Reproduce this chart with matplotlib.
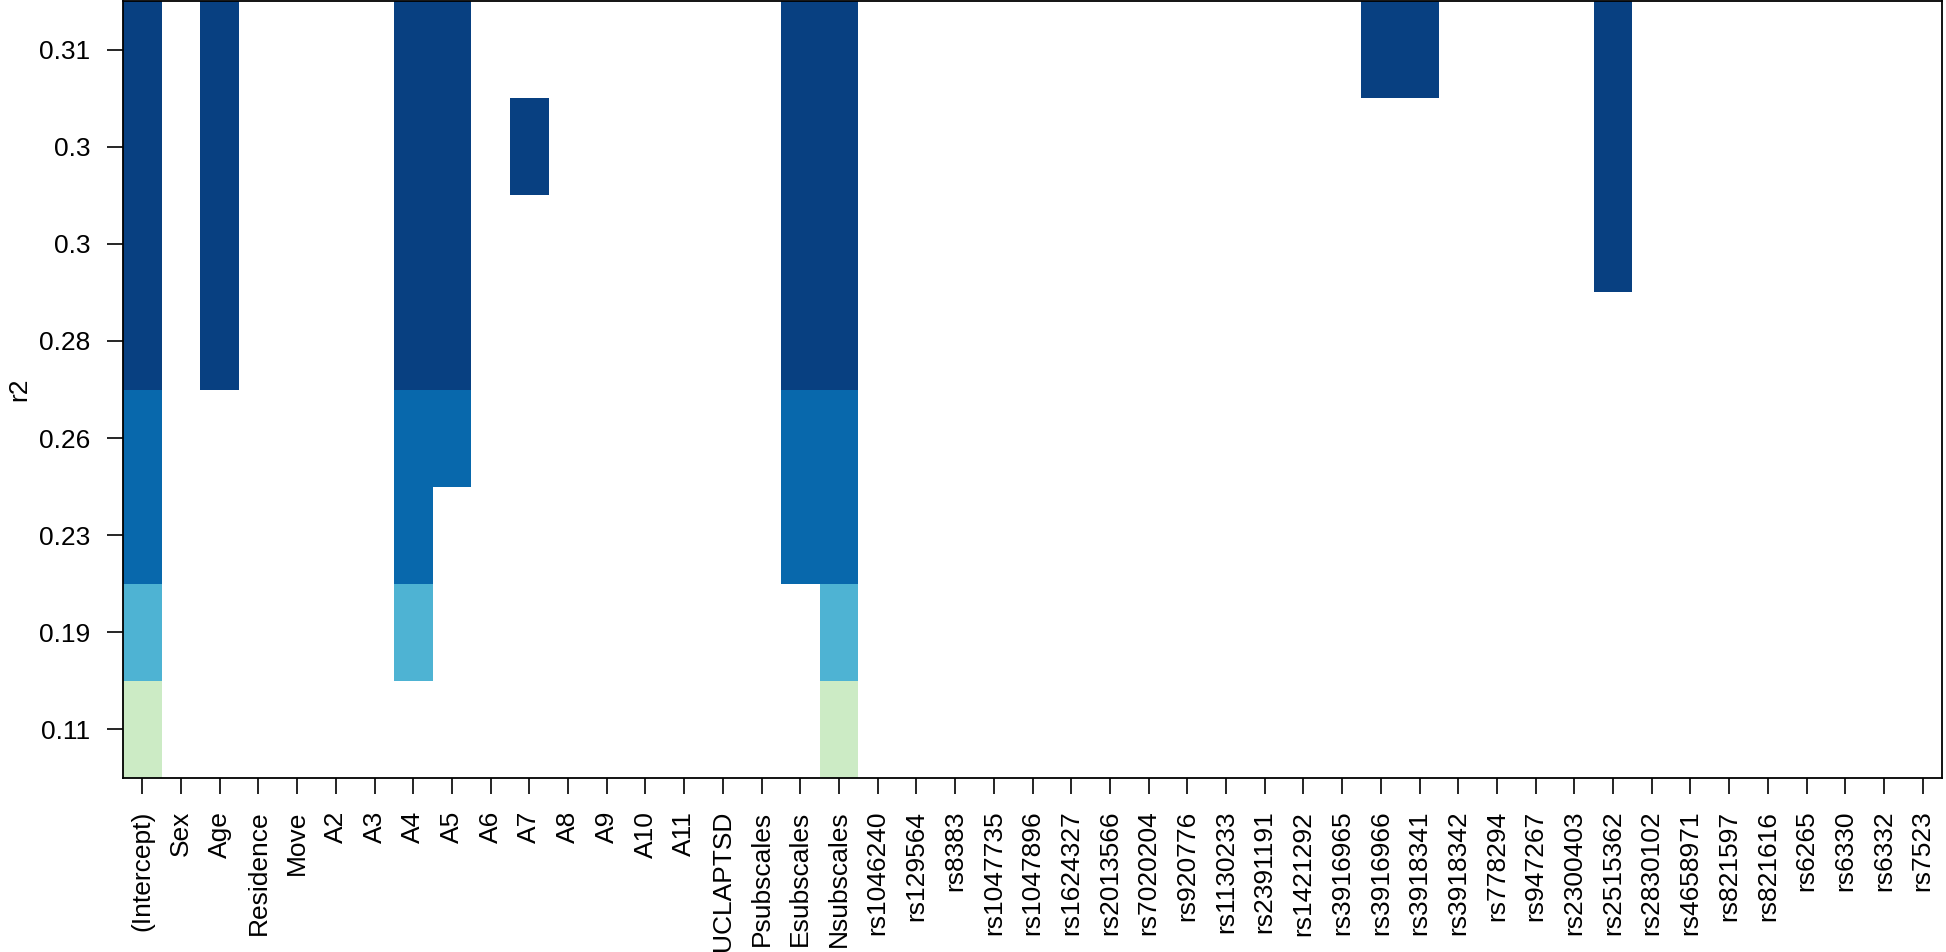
import numpy as np
import matplotlib
matplotlib.use('Agg')
import matplotlib.pyplot as plt
from matplotlib.colors import ListedColormap, BoundaryNorm

plt.rcParams['font.family'] = ['Liberation Sans', 'DejaVu Sans']

variables = ['(Intercept)', 'Sex', 'Age', 'Residence', 'Move', 'A2', 'A3', 'A4', 'A5',
             'A6', 'A7', 'A8', 'A9', 'A10', 'A11', 'UCLAPTSD', 'Psubscales',
             'Esubscales', 'Nsubscales', 'rs1046240', 'rs129564', 'rs8383',
             'rs1047735', 'rs1047896', 'rs1624327', 'rs2013566', 'rs7020204',
             'rs920776', 'rs1130233', 'rs2391191', 'rs1421292', 'rs3916965',
             'rs3916966', 'rs3918341', 'rs3918342', 'rs778294', 'rs947267',
             'rs2300403', 'rs2515362', 'rs2830102', 'rs4658971', 'rs821597',
             'rs821616', 'rs6265', 'rs6330', 'rs6332', 'rs7523']

# r2 of each model, bottom row first
r2 = [0.113, 0.188, 0.228, 0.259, 0.281, 0.296, 0.304, 0.309]

# variables in each model, same order as r2
models = [
    ['(Intercept)', 'Nsubscales'],
    ['(Intercept)', 'A4', 'Nsubscales'],
    ['(Intercept)', 'A4', 'Esubscales', 'Nsubscales'],
    ['(Intercept)', 'A4', 'A5', 'Esubscales', 'Nsubscales'],
    ['(Intercept)', 'Age', 'A4', 'A5', 'Esubscales', 'Nsubscales'],
    ['(Intercept)', 'Age', 'A4', 'A5', 'Esubscales', 'Nsubscales', 'rs2515362'],
    ['(Intercept)', 'Age', 'A4', 'A5', 'A7', 'Esubscales', 'Nsubscales', 'rs2515362'],
    ['(Intercept)', 'Age', 'A4', 'A5', 'Esubscales', 'Nsubscales', 'rs3916966',
     'rs3918341', 'rs2515362'],
]

z = np.full((len(r2), len(variables)), np.nan)
for i, m in enumerate(models):
    for v in m:
        z[i, variables.index(v)] = r2[i]
z = np.ma.masked_invalid(z)

cmap = ListedColormap(['#ccebc5', '#4eb3d3', '#0868ac', '#084081'])
norm = BoundaryNorm([0.1, 0.15, 0.21, 0.27, 0.32], cmap.N)

fig = plt.figure(figsize=(19.46, 9.52), dpi=100)
ax = fig.add_axes([123 / 1946, 1 - 778 / 952, (1942 - 123) / 1946, 777 / 952])
ax.pcolormesh(np.arange(len(variables) + 1) - 0.5, np.arange(len(r2) + 1) - 0.5,
              z, cmap=cmap, norm=norm)

ax.set_xlim(-0.5, len(variables) - 0.5)
ax.set_ylim(-0.5, len(r2) - 0.5)
ax.set_xticks(range(len(variables)))
ax.set_xticklabels(variables, rotation=90, fontsize=19)
ax.set_yticks(range(len(r2)))
ax.set_yticklabels(['%.2g' % v for v in r2], fontsize=19)
ax.tick_params(length=11.5, width=1.2, pad=12)
ax.set_ylabel('r2', fontsize=19, labelpad=6)
for s in ax.spines.values():
    s.set_linewidth(1.3)

fig.savefig('out.png', dpi=100)
